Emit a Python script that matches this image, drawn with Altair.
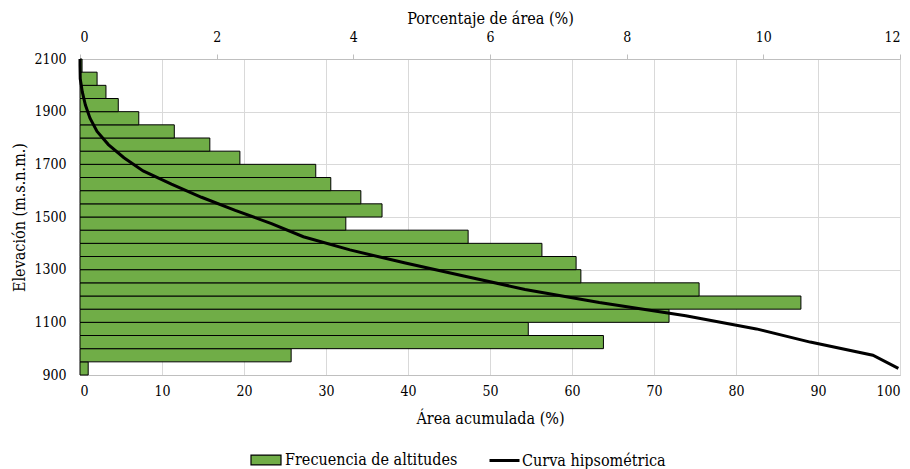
import altair as alt
import pandas as pd

# Elevation bands (lower edge, m) and share of basin area in each band (%)
band_low = [900, 950, 1000, 1050, 1100, 1150, 1200, 1250, 1300, 1350, 1400, 1450,
            1500, 1550, 1600, 1650, 1700, 1750, 1800, 1850, 1900, 1950, 2000, 2050]
area_pct = [0.12, 3.09, 7.66, 6.56, 8.62, 10.55, 9.06, 7.33, 7.26, 6.76, 5.68, 3.89,
            4.42, 4.11, 3.67, 3.45, 2.34, 1.90, 1.38, 0.86, 0.56, 0.38, 0.25, 0.03]
band_width = 50

# Hypsometric curve: accumulated area (%) against elevation (m)
curve_elev = [2100, 2075, 2025, 1975, 1925, 1875, 1825, 1775, 1725, 1675, 1625, 1575,
              1525, 1475, 1425, 1375, 1325, 1275, 1225, 1175, 1125, 1075, 1025, 975, 925]
curve_cum = [0.0, 0.0, 0.03, 0.28, 0.66, 1.22, 2.08, 3.46, 5.36, 7.70, 11.15, 14.82,
             18.93, 23.35, 27.24, 32.92, 39.68, 46.94, 54.27, 63.33, 73.87, 82.49, 89.05,
             96.69, 99.8]

top_ticks = [0, 2, 4, 6, 8, 10, 12]
bottom_ticks = [0, 10, 20, 30, 40, 50, 60, 70, 80, 90, 100]
elev_ticks = [900, 1100, 1300, 1500, 1700, 1900, 2100]

bars_df = pd.DataFrame({
    "low": band_low,
    "high": [v + band_width for v in band_low],
    "pct": area_pct,
    "serie": ["Frecuencia de altitudes"] * len(band_low),
})
curve_df = pd.DataFrame({
    "elev": curve_elev,
    "cum": curve_cum,
    "serie": ["Curva hipsométrica"] * len(curve_elev),
})

FONT = "DejaVu Serif Condensed, DejaVu Serif"
LABEL_SIZE = 14
TITLE_SIZE = 16
LEGEND_SIZE = 16
GRID = "#D9D9D9"
DOMAIN = "#BFBFBF"

axis_text = dict(
    labelFont=FONT, titleFont=FONT, labelColor="black", titleColor="black",
    labelFontSize=LABEL_SIZE, titleFontSize=TITLE_SIZE, titleFontWeight="normal",
)

y_axis = alt.Axis(
    title="Elevación (m.s.n.m.)", values=elev_ticks, format="d", grid=True,
    gridColor=GRID, ticks=False, tickSize=0, labelPadding=14, titlePadding=6,
    domainColor=DOMAIN, **axis_text,
)
y_scale = alt.Scale(domain=[900, 2100], nice=False, zero=False)

bars = alt.Chart(bars_df).mark_rect(stroke="black", strokeWidth=1).encode(
    x=alt.X(
        "pct:Q",
        scale=alt.Scale(domain=[0, 12], nice=False),
        axis=alt.Axis(
            orient="top", title="Porcentaje de área (%)", values=top_ticks,
            grid=False, ticks=True, tickSize=5, tickColor=DOMAIN, domainColor=DOMAIN,
            labelPadding=10, titlePadding=4, **axis_text,
        ),
    ),
    x2=alt.datum(0),
    y=alt.Y("low:Q", scale=y_scale, axis=y_axis),
    y2="high:Q",
    fill=alt.Fill(
        "serie:N",
        scale=alt.Scale(domain=["Frecuencia de altitudes"], range=["#70AD47"]),
        legend=alt.Legend(
            title=None, orient="none", legendX=170, legendY=385,
            symbolType="M-1,-0.33H1V0.33H-1Z", symbolSize=900,
            symbolStrokeColor="black", symbolStrokeWidth=1.2, labelLimit=400,
            labelFont=FONT, labelFontSize=LEGEND_SIZE, labelColor="black", labelOffset=3,
        ),
    ),
)

curve = alt.Chart(curve_df).mark_line(color="black", strokeWidth=3).encode(
    x=alt.X(
        "cum:Q",
        scale=alt.Scale(domain=[0, 100], nice=False),
        axis=alt.Axis(
            orient="bottom", title="Área acumulada (%)", values=bottom_ticks,
            grid=True, gridColor=GRID, ticks=False, tickSize=0, domainColor=DOMAIN,
            labelPadding=9, titlePadding=12, **axis_text,
        ),
    ),
    y=alt.Y("elev:Q", scale=y_scale, axis=y_axis),
    stroke=alt.Stroke(
        "serie:N",
        scale=alt.Scale(domain=["Curva hipsométrica"], range=["black"]),
        legend=alt.Legend(
            title=None, orient="none", legendX=408, legendY=385,
            symbolType="stroke", symbolSize=900, symbolStrokeWidth=3, labelLimit=400,
            labelFont=FONT, labelFontSize=LEGEND_SIZE, labelColor="black", labelOffset=1,
        ),
    ),
    order=alt.Order("elev:Q", sort="descending"),
)

chart = alt.layer(bars, curve).resolve_scale(
    x="independent", fill="independent", stroke="independent"
).resolve_legend(fill="independent", stroke="independent").properties(
    width=820, height=316,
    autosize=alt.AutoSizeParams(type="none"),
    padding={"left": 80, "top": 59, "right": 10, "bottom": 94},
).configure_view(stroke=None).configure(background="white", font=FONT)

chart.save("out.html", embed_options={"renderer": "svg", "actions": False})
